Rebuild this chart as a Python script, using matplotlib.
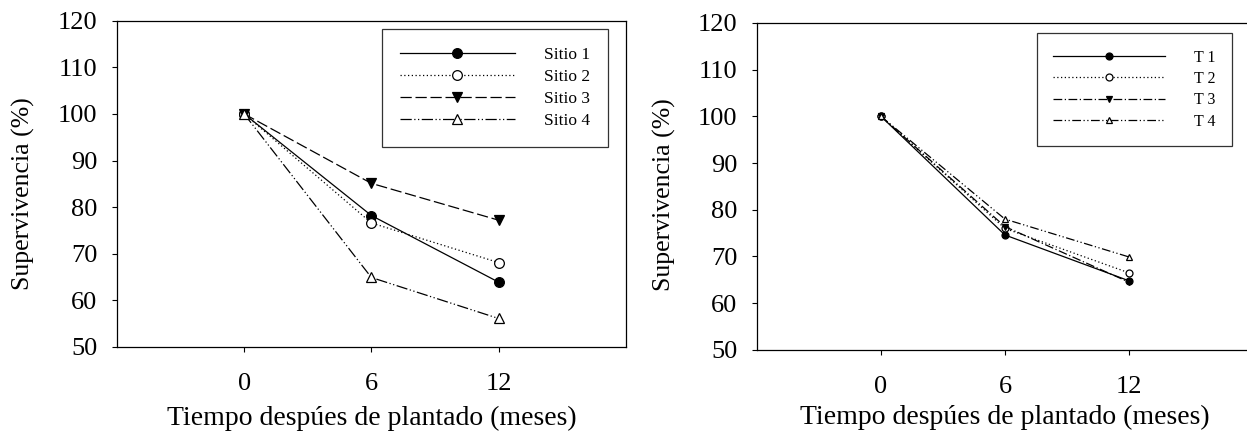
import matplotlib.pyplot as plt

plt.rcParams['font.family'] = ['Liberation Serif', 'DejaVu Serif']

MESES = [0, 6, 12]

SITIO_1 = [100, 78.2, 63.9]
SITIO_2 = [100, 76.6, 68.1]
SITIO_3 = [100, 85.1, 77.2]
SITIO_4 = [100, 64.9, 56.1]

T_1 = [100, 74.6, 64.8]
T_2 = [100, 76.0, 66.5]
T_3 = [100, 76.4, 64.5]
T_4 = [100, 78.0, 69.9]

SITIO_LABELS = ['Sitio 1', 'Sitio 2', 'Sitio 3', 'Sitio 4']
T_LABELS = ['T 1', 'T 2', 'T 3', 'T 4']

YLABEL = 'Supervivencia (%)'
XLABEL = 'Tiempo despúes de plantado (meses)'

# (linestyle, marker, facecolor)
STYLES_LEFT = [
    ('-', 'o', 'black'),
    ((0, (1, 2)), 'o', 'white'),
    ((0, (9, 3)), 'v', 'black'),
    ((0, (9, 2, 1, 2, 1, 2)), '^', 'white'),
]
STYLES_RIGHT = [
    ('-', 'o', 'black'),
    ((0, (1, 2)), 'o', 'white'),
    ((0, (7, 2, 1, 2)), 'v', 'black'),
    ((0, (7, 2, 1, 2, 1, 2)), '^', 'white'),
]


def panel(ax, series, labels, styles, ms, ylab_xy, xpad, legend_kw):
    for vals, lab, (ls, mk, fc) in zip(series, labels, styles):
        ax.plot(MESES, vals, linestyle=ls, marker=mk, color='black',
                markerfacecolor=fc, markeredgecolor='black', markersize=ms,
                markeredgewidth=0.9, linewidth=0.9, label=lab)
    ax.set_xlim(-6, 18)
    ax.set_ylim(50, 120)
    ax.set_xticks(MESES)
    ax.set_yticks(range(50, 121, 10))
    ax.tick_params(axis='both', labelsize=19, direction='out', length=3.6,
                   width=0.8, top=False, right=False)
    ax.tick_params(axis='x', pad=15.5)
    ax.tick_params(axis='y', pad=10.5)
    ax.set_ylabel(YLABEL, fontsize=18.5)
    ax.yaxis.set_label_coords(*ylab_xy)
    ax.set_xlabel(XLABEL, fontsize=20, labelpad=xpad)
    for sp in ax.spines.values():
        sp.set_linewidth(0.9)
    leg = ax.legend(frameon=True, fancybox=False, numpoints=1,
                    edgecolor='black', borderaxespad=0, labelspacing=0.33,
                    loc='upper right', **legend_kw)
    leg.get_frame().set_linewidth(0.9)


fig = plt.figure(figsize=(12.47, 4.32), dpi=100)

ax1 = fig.add_axes([0.0938, 0.197, 0.408, 0.755])
panel(ax1, [SITIO_1, SITIO_2, SITIO_3, SITIO_4], SITIO_LABELS, STYLES_LEFT, 7,
      (-0.161, 0.469), 7.5,
      dict(bbox_to_anchor=(0.965, 0.975), fontsize=12.5, handlelength=6.6,
           handletextpad=1.67, borderpad=1.05))

ax2 = fig.add_axes([0.607, 0.190, 0.3978, 0.757])
panel(ax2, [T_1, T_2, T_3, T_4], T_LABELS, STYLES_RIGHT, 5,
      (-0.163, 0.474), 4.5,
      dict(bbox_to_anchor=(0.958, 0.969), fontsize=11.5, handlelength=7.0,
           handletextpad=1.8, borderpad=1.05))

fig.savefig('out.png', dpi=100)
